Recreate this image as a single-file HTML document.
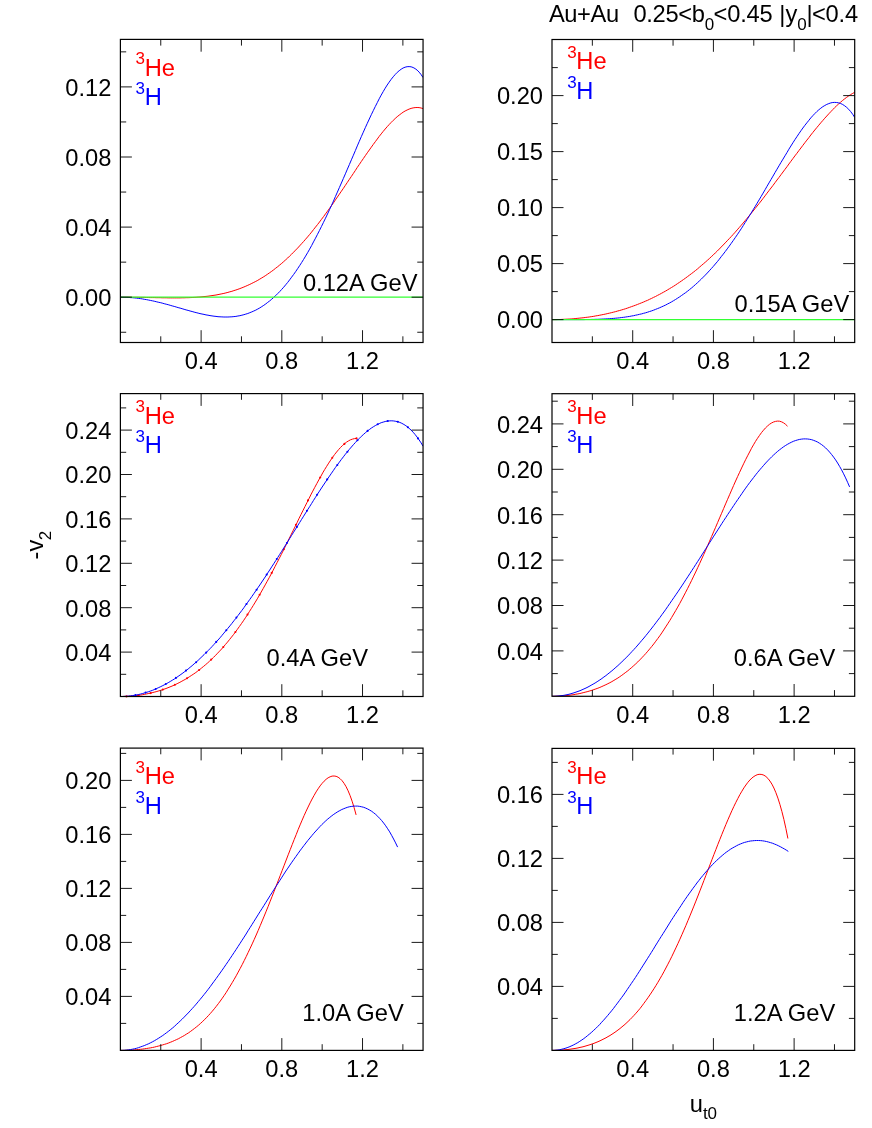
<!DOCTYPE html>
<html><head><meta charset="utf-8"><title>v2 plot</title>
<style>html,body{margin:0;padding:0;background:#fff}svg{display:block;will-change:transform}text{font-family:"Liberation Sans",sans-serif;fill:#000}</style></head>
<body>
<svg width="872" height="1128" viewBox="0 0 872 1128">
<rect width="872" height="1128" fill="#fff"/>
<g id="panel1">
<clipPath id="cp1"><rect x="120.4" y="39.4" width="302.65" height="303.1"/></clipPath>
<path d="M120.4 297.2 L122.4 297.2 L124.4 297.2 L126.4 297.2 L128.4 297.2 L130.4 297.2 L132.3 297.3 L134.3 297.3 L136.3 297.3 L138.3 297.3 L140.3 297.4 L142.3 297.4 L144.3 297.4 L146.3 297.5 L148.3 297.5 L150.3 297.6 L152.3 297.6 L154.2 297.6 L156.2 297.7 L158.2 297.7 L160.2 297.7 L162.2 297.8 L164.2 297.8 L166.2 297.8 L168.2 297.9 L170.2 297.9 L172.2 297.9 L174.2 297.9 L176.2 297.9 L178.1 297.9 L180.1 297.9 L182.1 297.8 L184.1 297.8 L186.1 297.7 L188.1 297.7 L190.1 297.6 L192.1 297.5 L194.1 297.4 L196.1 297.3 L198.1 297.1 L200.0 297.0 L202.0 296.8 L204.0 296.6 L206.0 296.4 L208.0 296.2 L210.0 295.9 L212.0 295.6 L214.0 295.3 L216.0 295.0 L218.0 294.6 L220.0 294.2 L221.9 293.8 L223.9 293.4 L225.9 292.9 L227.9 292.4 L229.9 291.8 L231.9 291.3 L233.9 290.6 L235.9 290.0 L237.9 289.3 L239.9 288.6 L241.9 287.8 L243.9 287.0 L245.8 286.2 L247.8 285.3 L249.8 284.4 L251.8 283.4 L253.8 282.4 L255.8 281.4 L257.8 280.3 L259.8 279.1 L261.8 277.9 L263.8 276.7 L265.8 275.4 L267.7 274.1 L269.7 272.7 L271.7 271.3 L273.7 269.8 L275.7 268.2 L277.7 266.7 L279.7 265.0 L281.7 263.4 L283.7 261.6 L285.7 259.8 L287.7 258.0 L289.6 256.1 L291.6 254.2 L293.6 252.2 L295.6 250.1 L297.6 248.1 L299.6 245.9 L301.6 243.7 L303.6 241.5 L305.6 239.2 L307.6 236.9 L309.6 234.5 L311.6 232.1 L313.5 229.6 L315.5 227.1 L317.5 224.6 L319.5 222.0 L321.5 219.3 L323.5 216.7 L325.5 213.9 L327.5 211.2 L329.5 208.4 L331.5 205.6 L333.5 202.8 L335.4 199.9 L337.4 197.0 L339.4 194.1 L341.4 191.2 L343.4 188.3 L345.4 185.3 L347.4 182.3 L349.4 179.3 L351.4 176.4 L353.4 173.4 L355.4 170.4 L357.3 167.4 L359.3 164.5 L361.3 161.5 L363.3 158.6 L365.3 155.7 L367.3 152.8 L369.3 150.0 L371.3 147.2 L373.3 144.4 L375.3 141.7 L377.3 139.0 L379.2 136.4 L381.2 133.9 L383.2 131.4 L385.2 129.0 L387.2 126.7 L389.2 124.5 L391.2 122.4 L393.2 120.4 L395.2 118.5 L397.2 116.7 L399.2 115.1 L401.2 113.6 L403.1 112.2 L405.1 111.0 L407.1 110.0 L409.1 109.1 L411.1 108.4 L413.1 107.9 L415.1 107.6 L417.1 107.5 L419.1 107.6 L421.1 108.0 L423.1 108.6" fill="none" stroke="#f00" stroke-width="1.0" stroke-linejoin="round" clip-path="url(#cp1)"/>
<path d="M120.4 297.2 L122.4 297.2 L124.4 297.3 L126.4 297.3 L128.4 297.4 L130.4 297.6 L132.3 297.7 L134.3 297.9 L136.3 298.1 L138.3 298.4 L140.3 298.6 L142.3 298.9 L144.3 299.3 L146.3 299.6 L148.3 300.0 L150.3 300.4 L152.3 300.8 L154.2 301.2 L156.2 301.7 L158.2 302.2 L160.2 302.6 L162.2 303.1 L164.2 303.7 L166.2 304.2 L168.2 304.7 L170.2 305.3 L172.2 305.9 L174.2 306.4 L176.2 307.0 L178.1 307.6 L180.1 308.1 L182.1 308.7 L184.1 309.3 L186.1 309.9 L188.1 310.4 L190.1 311.0 L192.1 311.5 L194.1 312.1 L196.1 312.6 L198.1 313.1 L200.0 313.6 L202.0 314.0 L204.0 314.4 L206.0 314.9 L208.0 315.2 L210.0 315.6 L212.0 315.9 L214.0 316.2 L216.0 316.4 L218.0 316.7 L220.0 316.8 L221.9 316.9 L223.9 317.0 L225.9 317.0 L227.9 317.0 L229.9 316.9 L231.9 316.8 L233.9 316.6 L235.9 316.4 L237.9 316.0 L239.9 315.7 L241.9 315.2 L243.9 314.7 L245.8 314.1 L247.8 313.5 L249.8 312.7 L251.8 311.9 L253.8 311.0 L255.8 310.1 L257.8 309.0 L259.8 307.9 L261.8 306.6 L263.8 305.3 L265.8 303.9 L267.7 302.4 L269.7 300.9 L271.7 299.2 L273.7 297.4 L275.7 295.6 L277.7 293.6 L279.7 291.6 L281.7 289.4 L283.7 287.2 L285.7 284.8 L287.7 282.4 L289.6 279.9 L291.6 277.2 L293.6 274.5 L295.6 271.7 L297.6 268.7 L299.6 265.7 L301.6 262.6 L303.6 259.4 L305.6 256.1 L307.6 252.7 L309.6 249.2 L311.6 245.6 L313.5 241.9 L315.5 238.2 L317.5 234.3 L319.5 230.4 L321.5 226.4 L323.5 222.3 L325.5 218.2 L327.5 214.0 L329.5 209.7 L331.5 205.4 L333.5 201.0 L335.4 196.6 L337.4 192.1 L339.4 187.5 L341.4 183.0 L343.4 178.4 L345.4 173.8 L347.4 169.1 L349.4 164.5 L351.4 159.8 L353.4 155.2 L355.4 150.5 L357.3 145.9 L359.3 141.3 L361.3 136.7 L363.3 132.2 L365.3 127.7 L367.3 123.3 L369.3 119.0 L371.3 114.7 L373.3 110.6 L375.3 106.5 L377.3 102.6 L379.2 98.8 L381.2 95.1 L383.2 91.6 L385.2 88.2 L387.2 85.0 L389.2 82.1 L391.2 79.3 L393.2 76.8 L395.2 74.5 L397.2 72.4 L399.2 70.7 L401.2 69.2 L403.1 68.0 L405.1 67.2 L407.1 66.7 L409.1 66.6 L411.1 66.8 L413.1 67.5 L415.1 68.6 L417.1 70.1 L419.1 72.1 L421.1 74.6 L423.1 77.6" fill="none" stroke="#00f" stroke-width="1.0" stroke-linejoin="round" clip-path="url(#cp1)"/>
<line x1="120.4" y1="297.2" x2="423.05" y2="297.2" stroke="#3f3" stroke-width="1.2"/>
<path d="M160.75 342.5v-6.2M160.75 39.4v6.2M201.11 342.5v-12.3M201.11 39.4v12.3M241.46 342.5v-6.2M241.46 39.4v6.2M281.82 342.5v-12.3M281.82 39.4v12.3M322.17 342.5v-6.2M322.17 39.4v6.2M362.52 342.5v-12.3M362.52 39.4v12.3M402.88 342.5v-6.2M402.88 39.4v6.2M120.4 332.25h5.8M423.05 332.25h-5.8M120.4 297.20h11.5M423.05 297.20h-11.5M120.4 262.15h5.8M423.05 262.15h-5.8M120.4 227.10h11.5M423.05 227.10h-11.5M120.4 192.05h5.8M423.05 192.05h-5.8M120.4 157.00h11.5M423.05 157.00h-11.5M120.4 121.95h5.8M423.05 121.95h-5.8M120.4 86.90h11.5M423.05 86.90h-11.5M120.4 51.85h5.8M423.05 51.85h-5.8" stroke="#000" stroke-width="0.9" fill="none"/>
<rect x="120.4" y="39.4" width="302.65" height="303.1" fill="none" stroke="#000" stroke-width="1.2"/>
<text x="111.4" y="306.0" font-size="23.7" text-anchor="end">0.00</text>
<text x="111.4" y="235.9" font-size="23.7" text-anchor="end">0.04</text>
<text x="111.4" y="165.8" font-size="23.7" text-anchor="end">0.08</text>
<text x="111.4" y="95.7" font-size="23.7" text-anchor="end">0.12</text>
<text x="201.1" y="368.7" font-size="23.7" text-anchor="middle">0.4</text>
<text x="281.8" y="368.7" font-size="23.7" text-anchor="middle">0.8</text>
<text x="362.5" y="368.7" font-size="23.7" text-anchor="middle">1.2</text>
<text x="135.6" y="75.6" font-size="23.7" style="fill:#f00"><tspan font-size="17.0" dy="-11.8">3</tspan><tspan dy="11.8" dx="-0.3">He</tspan></text>
<text x="135.6" y="104.8" font-size="23.7" style="fill:#00f"><tspan font-size="17.0" dy="-10.7">3</tspan><tspan dy="10.7" dx="-0.3">H</tspan></text>
<text x="417.5" y="291.1" font-size="23.7" text-anchor="end">0.12A GeV</text>
</g>
<g id="panel2">
<clipPath id="cp2"><rect x="552" y="39.5" width="302.7" height="303"/></clipPath>
<path d="M552.0 319.6 L554.0 319.6 L556.0 319.6 L558.0 319.5 L560.0 319.5 L562.0 319.4 L563.9 319.3 L565.9 319.2 L567.9 319.1 L569.9 319.0 L571.9 318.9 L573.9 318.7 L575.9 318.5 L577.9 318.3 L579.9 318.1 L581.9 317.9 L583.9 317.7 L585.8 317.4 L587.8 317.2 L589.8 316.9 L591.8 316.6 L593.8 316.3 L595.8 315.9 L597.8 315.6 L599.8 315.2 L601.8 314.8 L603.8 314.4 L605.8 314.0 L607.8 313.5 L609.7 313.1 L611.7 312.6 L613.7 312.1 L615.7 311.6 L617.7 311.0 L619.7 310.5 L621.7 309.9 L623.7 309.3 L625.7 308.7 L627.7 308.0 L629.7 307.3 L631.6 306.6 L633.6 305.9 L635.6 305.2 L637.6 304.4 L639.6 303.6 L641.6 302.8 L643.6 302.0 L645.6 301.1 L647.6 300.3 L649.6 299.3 L651.6 298.4 L653.5 297.4 L655.5 296.5 L657.5 295.4 L659.5 294.4 L661.5 293.3 L663.5 292.2 L665.5 291.1 L667.5 289.9 L669.5 288.7 L671.5 287.5 L673.5 286.3 L675.5 285.0 L677.4 283.7 L679.4 282.4 L681.4 281.0 L683.4 279.6 L685.4 278.2 L687.4 276.7 L689.4 275.2 L691.4 273.7 L693.4 272.2 L695.4 270.6 L697.4 269.0 L699.3 267.3 L701.3 265.6 L703.3 263.9 L705.3 262.2 L707.3 260.4 L709.3 258.6 L711.3 256.7 L713.3 254.9 L715.3 252.9 L717.3 251.0 L719.3 249.0 L721.2 247.0 L723.2 245.0 L725.2 242.9 L727.2 240.8 L729.2 238.7 L731.2 236.6 L733.2 234.4 L735.2 232.2 L737.2 229.9 L739.2 227.6 L741.2 225.3 L743.2 223.0 L745.1 220.7 L747.1 218.3 L749.1 215.9 L751.1 213.4 L753.1 211.0 L755.1 208.5 L757.1 206.0 L759.1 203.5 L761.1 201.0 L763.1 198.4 L765.1 195.8 L767.0 193.2 L769.0 190.6 L771.0 188.0 L773.0 185.4 L775.0 182.7 L777.0 180.0 L779.0 177.4 L781.0 174.7 L783.0 172.0 L785.0 169.3 L787.0 166.7 L788.9 164.0 L790.9 161.3 L792.9 158.6 L794.9 155.9 L796.9 153.3 L798.9 150.6 L800.9 148.0 L802.9 145.3 L804.9 142.7 L806.9 140.1 L808.9 137.6 L810.8 135.0 L812.8 132.5 L814.8 130.0 L816.8 127.6 L818.8 125.2 L820.8 122.8 L822.8 120.5 L824.8 118.2 L826.8 116.0 L828.8 113.8 L830.8 111.7 L832.8 109.6 L834.7 107.6 L836.7 105.7 L838.7 103.9 L840.7 102.1 L842.7 100.4 L844.7 98.8 L846.7 97.3 L848.7 95.9 L850.7 94.6 L852.7 93.4 L854.7 92.3" fill="none" stroke="#f00" stroke-width="1.0" stroke-linejoin="round" clip-path="url(#cp2)"/>
<path d="M552.0 319.6 L554.0 319.6 L556.0 319.6 L558.0 319.6 L560.0 319.6 L562.0 319.6 L563.9 319.6 L565.9 319.6 L567.9 319.6 L569.9 319.6 L571.9 319.6 L573.9 319.6 L575.9 319.6 L577.9 319.6 L579.9 319.6 L581.9 319.6 L583.9 319.6 L585.8 319.5 L587.8 319.5 L589.8 319.5 L591.8 319.4 L593.8 319.4 L595.8 319.3 L597.8 319.3 L599.8 319.2 L601.8 319.1 L603.8 319.0 L605.8 318.9 L607.8 318.8 L609.7 318.7 L611.7 318.5 L613.7 318.4 L615.7 318.2 L617.7 318.0 L619.7 317.8 L621.7 317.5 L623.7 317.3 L625.7 317.0 L627.7 316.7 L629.7 316.4 L631.6 316.0 L633.6 315.7 L635.6 315.2 L637.6 314.8 L639.6 314.3 L641.6 313.9 L643.6 313.3 L645.6 312.8 L647.6 312.2 L649.6 311.5 L651.6 310.9 L653.5 310.2 L655.5 309.4 L657.5 308.6 L659.5 307.8 L661.5 306.9 L663.5 306.0 L665.5 305.1 L667.5 304.0 L669.5 303.0 L671.5 301.9 L673.5 300.7 L675.5 299.5 L677.4 298.3 L679.4 297.0 L681.4 295.6 L683.4 294.2 L685.4 292.8 L687.4 291.3 L689.4 289.7 L691.4 288.1 L693.4 286.4 L695.4 284.6 L697.4 282.8 L699.3 281.0 L701.3 279.1 L703.3 277.1 L705.3 275.1 L707.3 273.0 L709.3 270.8 L711.3 268.6 L713.3 266.4 L715.3 264.0 L717.3 261.7 L719.3 259.2 L721.2 256.7 L723.2 254.2 L725.2 251.6 L727.2 248.9 L729.2 246.2 L731.2 243.4 L733.2 240.6 L735.2 237.7 L737.2 234.8 L739.2 231.8 L741.2 228.8 L743.2 225.7 L745.1 222.6 L747.1 219.5 L749.1 216.3 L751.1 213.1 L753.1 209.8 L755.1 206.6 L757.1 203.2 L759.1 199.9 L761.1 196.5 L763.1 193.1 L765.1 189.7 L767.0 186.3 L769.0 182.9 L771.0 179.5 L773.0 176.1 L775.0 172.6 L777.0 169.2 L779.0 165.8 L781.0 162.4 L783.0 159.1 L785.0 155.8 L787.0 152.5 L788.9 149.2 L790.9 146.0 L792.9 142.8 L794.9 139.7 L796.9 136.7 L798.9 133.7 L800.9 130.8 L802.9 128.0 L804.9 125.3 L806.9 122.8 L808.9 120.3 L810.8 117.9 L812.8 115.7 L814.8 113.6 L816.8 111.6 L818.8 109.8 L820.8 108.2 L822.8 106.7 L824.8 105.5 L826.8 104.4 L828.8 103.6 L830.8 102.9 L832.8 102.5 L834.7 102.4 L836.7 102.5 L838.7 102.9 L840.7 103.5 L842.7 104.5 L844.7 105.8 L846.7 107.4 L848.7 109.3 L850.7 111.6 L852.7 114.3 L854.7 117.4" fill="none" stroke="#00f" stroke-width="1.0" stroke-linejoin="round" clip-path="url(#cp2)"/>
<line x1="552" y1="319.6" x2="854.7" y2="319.6" stroke="#3f3" stroke-width="1.2"/>
<path d="M592.35 342.5v-6.2M592.35 39.5v6.2M632.71 342.5v-12.3M632.71 39.5v12.3M673.06 342.5v-6.2M673.06 39.5v6.2M713.42 342.5v-12.3M713.42 39.5v12.3M753.77 342.5v-6.2M753.77 39.5v6.2M794.12 342.5v-12.3M794.12 39.5v12.3M834.48 342.5v-6.2M834.48 39.5v6.2M552 319.60h11.5M854.7 319.60h-11.5M552 291.60h5.8M854.7 291.60h-5.8M552 263.60h11.5M854.7 263.60h-11.5M552 235.60h5.8M854.7 235.60h-5.8M552 207.60h11.5M854.7 207.60h-11.5M552 179.60h5.8M854.7 179.60h-5.8M552 151.60h11.5M854.7 151.60h-11.5M552 123.60h5.8M854.7 123.60h-5.8M552 95.60h11.5M854.7 95.60h-11.5M552 67.60h5.8M854.7 67.60h-5.8" stroke="#000" stroke-width="0.9" fill="none"/>
<rect x="552" y="39.5" width="302.7" height="303" fill="none" stroke="#000" stroke-width="1.2"/>
<text x="543" y="328.4" font-size="23.7" text-anchor="end">0.00</text>
<text x="543" y="272.4" font-size="23.7" text-anchor="end">0.05</text>
<text x="543" y="216.4" font-size="23.7" text-anchor="end">0.10</text>
<text x="543" y="160.4" font-size="23.7" text-anchor="end">0.15</text>
<text x="543" y="104.4" font-size="23.7" text-anchor="end">0.20</text>
<text x="632.7" y="368.7" font-size="23.7" text-anchor="middle">0.4</text>
<text x="713.4" y="368.7" font-size="23.7" text-anchor="middle">0.8</text>
<text x="794.1" y="368.7" font-size="23.7" text-anchor="middle">1.2</text>
<text x="567.2" y="69.4" font-size="23.7" style="fill:#f00"><tspan font-size="17.0" dy="-11.8">3</tspan><tspan dy="11.8" dx="-0.3">He</tspan></text>
<text x="567.2" y="98.6" font-size="23.7" style="fill:#00f"><tspan font-size="17.0" dy="-10.7">3</tspan><tspan dy="10.7" dx="-0.3">H</tspan></text>
<text x="849.2" y="312.4" font-size="23.7" text-anchor="end">0.15A GeV</text>
</g>
<g id="panel3">
<clipPath id="cp3"><rect x="120.4" y="393.6" width="302.65" height="302.9"/></clipPath>
<path d="M120.4 696.5 L122.4 696.5 L124.4 696.4 L126.4 696.4 L128.3 696.3 L130.3 696.1 L132.3 696.0 L134.3 695.8 L136.3 695.6 L138.3 695.3 L140.2 695.1 L142.2 694.8 L144.2 694.4 L146.2 694.0 L148.2 693.6 L150.2 693.2 L152.1 692.7 L154.1 692.2 L156.1 691.7 L158.1 691.1 L160.1 690.5 L162.1 689.9 L164.0 689.2 L166.0 688.5 L168.0 687.7 L170.0 686.9 L172.0 686.1 L174.0 685.2 L175.9 684.3 L177.9 683.3 L179.9 682.3 L181.9 681.2 L183.9 680.1 L185.9 679.0 L187.8 677.8 L189.8 676.5 L191.8 675.2 L193.8 673.9 L195.8 672.5 L197.8 671.0 L199.8 669.5 L201.7 667.9 L203.7 666.3 L205.7 664.6 L207.7 662.9 L209.7 661.0 L211.7 659.2 L213.6 657.3 L215.6 655.3 L217.6 653.2 L219.6 651.1 L221.6 649.0 L223.6 646.7 L225.5 644.4 L227.5 642.1 L229.5 639.6 L231.5 637.1 L233.5 634.6 L235.5 631.9 L237.4 629.3 L239.4 626.5 L241.4 623.7 L243.4 620.8 L245.4 617.8 L247.4 614.8 L249.3 611.7 L251.3 608.6 L253.3 605.4 L255.3 602.1 L257.3 598.8 L259.3 595.4 L261.2 592.0 L263.2 588.5 L265.2 584.9 L267.2 581.3 L269.2 577.7 L271.2 574.0 L273.2 570.2 L275.1 566.4 L277.1 562.6 L279.1 558.7 L281.1 554.8 L283.1 550.9 L285.1 546.9 L287.0 542.9 L289.0 538.9 L291.0 534.9 L293.0 530.8 L295.0 526.8 L297.0 522.8 L298.9 518.7 L300.9 514.7 L302.9 510.7 L304.9 506.7 L306.9 502.7 L308.9 498.8 L310.8 494.9 L312.8 491.1 L314.8 487.3 L316.8 483.6 L318.8 479.9 L320.8 476.4 L322.7 472.9 L324.7 469.5 L326.7 466.3 L328.7 463.1 L330.7 460.1 L332.7 457.2 L334.6 454.5 L336.6 452.0 L338.6 449.6 L340.6 447.4 L342.6 445.4 L344.6 443.7 L346.6 442.1 L348.5 440.9 L350.5 439.8 L352.5 439.1 L354.5 438.6 L356.5 438.4" fill="none" stroke="#f00" stroke-width="1.0" stroke-linejoin="round" clip-path="url(#cp3)"/>
<circle cx="126.5" cy="696.4" r="1.05" fill="#f00"/>
<circle cx="138.6" cy="695.3" r="1.05" fill="#f00"/>
<circle cx="150.7" cy="693.1" r="1.05" fill="#f00"/>
<circle cx="162.8" cy="689.6" r="1.05" fill="#f00"/>
<circle cx="174.9" cy="684.8" r="1.05" fill="#f00"/>
<circle cx="187.0" cy="678.3" r="1.05" fill="#f00"/>
<circle cx="199.1" cy="670.0" r="1.05" fill="#f00"/>
<circle cx="211.2" cy="659.6" r="1.05" fill="#f00"/>
<circle cx="223.3" cy="647.0" r="1.05" fill="#f00"/>
<circle cx="235.4" cy="632.0" r="1.05" fill="#f00"/>
<circle cx="247.5" cy="614.6" r="1.05" fill="#f00"/>
<circle cx="259.6" cy="594.8" r="1.05" fill="#f00"/>
<circle cx="271.7" cy="572.9" r="1.05" fill="#f00"/>
<circle cx="283.8" cy="549.3" r="1.05" fill="#f00"/>
<circle cx="295.9" cy="524.8" r="1.05" fill="#f00"/>
<circle cx="308.0" cy="500.4" r="1.05" fill="#f00"/>
<circle cx="320.2" cy="477.5" r="1.05" fill="#f00"/>
<circle cx="332.3" cy="457.8" r="1.05" fill="#f00"/>
<circle cx="344.4" cy="443.9" r="1.05" fill="#f00"/>
<circle cx="356.5" cy="438.4" r="1.05" fill="#f00"/>
<path d="M120.4 696.5 L122.4 696.5 L124.4 696.4 L126.4 696.3 L128.4 696.1 L130.4 695.9 L132.3 695.6 L134.3 695.3 L136.3 695.0 L138.3 694.6 L140.3 694.1 L142.3 693.6 L144.3 693.0 L146.3 692.4 L148.3 691.8 L150.3 691.1 L152.3 690.4 L154.2 689.6 L156.2 688.7 L158.2 687.8 L160.2 686.9 L162.2 685.9 L164.2 684.9 L166.2 683.8 L168.2 682.7 L170.2 681.5 L172.2 680.3 L174.2 679.1 L176.2 677.8 L178.1 676.4 L180.1 675.0 L182.1 673.6 L184.1 672.1 L186.1 670.5 L188.1 669.0 L190.1 667.3 L192.1 665.7 L194.1 663.9 L196.1 662.2 L198.1 660.4 L200.0 658.5 L202.0 656.6 L204.0 654.7 L206.0 652.7 L208.0 650.7 L210.0 648.7 L212.0 646.6 L214.0 644.4 L216.0 642.2 L218.0 640.0 L220.0 637.8 L221.9 635.5 L223.9 633.1 L225.9 630.7 L227.9 628.3 L229.9 625.9 L231.9 623.4 L233.9 620.8 L235.9 618.3 L237.9 615.7 L239.9 613.0 L241.9 610.4 L243.9 607.7 L245.8 604.9 L247.8 602.2 L249.8 599.4 L251.8 596.6 L253.8 593.7 L255.8 590.8 L257.8 587.9 L259.8 585.0 L261.8 582.0 L263.8 579.0 L265.8 576.0 L267.7 573.0 L269.7 570.0 L271.7 566.9 L273.7 563.8 L275.7 560.7 L277.7 557.6 L279.7 554.4 L281.7 551.3 L283.7 548.1 L285.7 544.9 L287.7 541.8 L289.6 538.6 L291.6 535.4 L293.6 532.2 L295.6 529.0 L297.6 525.8 L299.6 522.6 L301.6 519.4 L303.6 516.2 L305.6 513.0 L307.6 509.8 L309.6 506.7 L311.6 503.5 L313.5 500.4 L315.5 497.3 L317.5 494.1 L319.5 491.1 L321.5 488.0 L323.5 485.0 L325.5 482.0 L327.5 479.0 L329.5 476.1 L331.5 473.2 L333.5 470.3 L335.4 467.5 L337.4 464.8 L339.4 462.1 L341.4 459.4 L343.4 456.8 L345.4 454.2 L347.4 451.8 L349.4 449.3 L351.4 447.0 L353.4 444.7 L355.4 442.5 L357.3 440.4 L359.3 438.4 L361.3 436.4 L363.3 434.6 L365.3 432.8 L367.3 431.1 L369.3 429.6 L371.3 428.1 L373.3 426.8 L375.3 425.6 L377.3 424.5 L379.2 423.6 L381.2 422.7 L383.2 422.1 L385.2 421.5 L387.2 421.1 L389.2 420.9 L391.2 420.8 L393.2 420.9 L395.2 421.2 L397.2 421.6 L399.2 422.2 L401.2 423.0 L403.1 424.0 L405.1 425.2 L407.1 426.6 L409.1 428.3 L411.1 430.1 L413.1 432.2 L415.1 434.5 L417.1 437.1 L419.1 439.9 L421.1 442.9 L423.1 446.3" fill="none" stroke="#00f" stroke-width="1.0" stroke-linejoin="round" clip-path="url(#cp3)"/>
<circle cx="135.5" cy="695.1" r="1.05" fill="#00f"/>
<circle cx="145.6" cy="692.6" r="1.05" fill="#00f"/>
<circle cx="155.7" cy="689.0" r="1.05" fill="#00f"/>
<circle cx="165.8" cy="684.0" r="1.05" fill="#00f"/>
<circle cx="175.9" cy="677.9" r="1.05" fill="#00f"/>
<circle cx="186.0" cy="670.6" r="1.05" fill="#00f"/>
<circle cx="196.1" cy="662.2" r="1.05" fill="#00f"/>
<circle cx="206.2" cy="652.6" r="1.05" fill="#00f"/>
<circle cx="216.2" cy="641.9" r="1.05" fill="#00f"/>
<circle cx="226.3" cy="630.2" r="1.05" fill="#00f"/>
<circle cx="236.4" cy="617.6" r="1.05" fill="#00f"/>
<circle cx="246.5" cy="604.0" r="1.05" fill="#00f"/>
<circle cx="256.6" cy="589.7" r="1.05" fill="#00f"/>
<circle cx="266.7" cy="574.6" r="1.05" fill="#00f"/>
<circle cx="276.8" cy="559.0" r="1.05" fill="#00f"/>
<circle cx="286.9" cy="543.0" r="1.05" fill="#00f"/>
<circle cx="296.9" cy="526.9" r="1.05" fill="#00f"/>
<circle cx="307.0" cy="510.7" r="1.05" fill="#00f"/>
<circle cx="317.1" cy="494.8" r="1.05" fill="#00f"/>
<circle cx="327.2" cy="479.4" r="1.05" fill="#00f"/>
<circle cx="337.3" cy="465.0" r="1.05" fill="#00f"/>
<circle cx="347.4" cy="451.8" r="1.05" fill="#00f"/>
<circle cx="357.5" cy="440.2" r="1.05" fill="#00f"/>
<circle cx="367.6" cy="430.9" r="1.05" fill="#00f"/>
<circle cx="377.7" cy="424.3" r="1.05" fill="#00f"/>
<circle cx="387.7" cy="421.0" r="1.05" fill="#00f"/>
<circle cx="397.8" cy="421.8" r="1.05" fill="#00f"/>
<circle cx="407.9" cy="427.3" r="1.05" fill="#00f"/>
<circle cx="418.0" cy="438.4" r="1.05" fill="#00f"/>
<path d="M160.75 696.5v-6.2M160.75 393.6v6.2M201.11 696.5v-12.3M201.11 393.6v12.3M241.46 696.5v-6.2M241.46 393.6v6.2M281.82 696.5v-12.3M281.82 393.6v12.3M322.17 696.5v-6.2M322.17 393.6v6.2M362.52 696.5v-12.3M362.52 393.6v12.3M402.88 696.5v-6.2M402.88 393.6v6.2M120.4 674.30h5.8M423.05 674.30h-5.8M120.4 652.10h11.5M423.05 652.10h-11.5M120.4 629.90h5.8M423.05 629.90h-5.8M120.4 607.70h11.5M423.05 607.70h-11.5M120.4 585.50h5.8M423.05 585.50h-5.8M120.4 563.30h11.5M423.05 563.30h-11.5M120.4 541.10h5.8M423.05 541.10h-5.8M120.4 518.90h11.5M423.05 518.90h-11.5M120.4 496.70h5.8M423.05 496.70h-5.8M120.4 474.50h11.5M423.05 474.50h-11.5M120.4 452.30h5.8M423.05 452.30h-5.8M120.4 430.10h11.5M423.05 430.10h-11.5M120.4 407.90h5.8M423.05 407.90h-5.8" stroke="#000" stroke-width="0.9" fill="none"/>
<rect x="120.4" y="393.6" width="302.65" height="302.9" fill="none" stroke="#000" stroke-width="1.2"/>
<text x="111.4" y="660.9" font-size="23.7" text-anchor="end">0.04</text>
<text x="111.4" y="616.5" font-size="23.7" text-anchor="end">0.08</text>
<text x="111.4" y="572.1" font-size="23.7" text-anchor="end">0.12</text>
<text x="111.4" y="527.7" font-size="23.7" text-anchor="end">0.16</text>
<text x="111.4" y="483.3" font-size="23.7" text-anchor="end">0.20</text>
<text x="111.4" y="438.9" font-size="23.7" text-anchor="end">0.24</text>
<text x="201.1" y="722.7" font-size="23.7" text-anchor="middle">0.4</text>
<text x="281.8" y="722.7" font-size="23.7" text-anchor="middle">0.8</text>
<text x="362.5" y="722.7" font-size="23.7" text-anchor="middle">1.2</text>
<text x="135.6" y="423.75" font-size="23.7" style="fill:#f00"><tspan font-size="17.0" dy="-11.8">3</tspan><tspan dy="11.8" dx="-0.3">He</tspan></text>
<text x="135.6" y="452.95" font-size="23.7" style="fill:#00f"><tspan font-size="17.0" dy="-10.7">3</tspan><tspan dy="10.7" dx="-0.3">H</tspan></text>
<text x="368" y="666.25" font-size="23.7" text-anchor="end">0.4A GeV</text>
</g>
<g id="panel4">
<clipPath id="cp4"><rect x="552" y="393.7" width="302.7" height="302.6"/></clipPath>
<path d="M552.0 696.3 L554.0 696.3 L556.0 696.2 L558.0 696.2 L560.0 696.1 L562.0 695.9 L564.0 695.8 L566.0 695.6 L568.0 695.4 L570.0 695.2 L572.0 694.9 L574.0 694.6 L575.9 694.2 L577.9 693.9 L579.9 693.5 L581.9 693.0 L583.9 692.5 L585.9 692.0 L587.9 691.5 L589.9 690.9 L591.9 690.3 L593.9 689.6 L595.9 688.9 L597.9 688.2 L599.9 687.4 L601.9 686.5 L603.9 685.6 L605.9 684.7 L607.9 683.7 L609.9 682.7 L611.9 681.6 L613.9 680.4 L615.9 679.2 L617.9 678.0 L619.8 676.7 L621.8 675.3 L623.8 673.8 L625.8 672.3 L627.8 670.8 L629.8 669.1 L631.8 667.4 L633.8 665.6 L635.8 663.8 L637.8 661.9 L639.8 659.9 L641.8 657.8 L643.8 655.7 L645.8 653.5 L647.8 651.2 L649.8 648.8 L651.8 646.4 L653.8 643.9 L655.8 641.2 L657.8 638.5 L659.8 635.8 L661.8 632.9 L663.7 630.0 L665.7 626.9 L667.7 623.8 L669.7 620.7 L671.7 617.4 L673.7 614.0 L675.7 610.6 L677.7 607.1 L679.7 603.5 L681.7 599.8 L683.7 596.0 L685.7 592.2 L687.7 588.3 L689.7 584.3 L691.7 580.3 L693.7 576.1 L695.7 572.0 L697.7 567.7 L699.7 563.4 L701.7 559.0 L703.7 554.6 L705.7 550.2 L707.6 545.7 L709.6 541.1 L711.6 536.5 L713.6 531.9 L715.6 527.3 L717.6 522.6 L719.6 517.9 L721.6 513.3 L723.6 508.6 L725.6 503.9 L727.6 499.3 L729.6 494.7 L731.6 490.1 L733.6 485.5 L735.6 481.0 L737.6 476.6 L739.6 472.3 L741.6 468.0 L743.6 463.8 L745.6 459.7 L747.6 455.8 L749.6 452.0 L751.5 448.3 L753.5 444.8 L755.5 441.4 L757.5 438.3 L759.5 435.4 L761.5 432.6 L763.5 430.2 L765.5 427.9 L767.5 426.0 L769.5 424.3 L771.5 423.0 L773.5 422.0 L775.5 421.4 L777.5 421.1 L779.5 421.2 L781.5 421.8 L783.5 422.8 L785.5 424.3 L787.5 426.2" fill="none" stroke="#f00" stroke-width="1.0" stroke-linejoin="round" clip-path="url(#cp4)"/>
<path d="M552.0 696.3 L554.0 696.3 L556.0 696.2 L558.0 696.0 L560.0 695.8 L562.0 695.6 L564.0 695.3 L566.0 694.9 L568.0 694.5 L570.0 694.0 L572.0 693.4 L574.0 692.8 L576.0 692.1 L578.0 691.4 L580.0 690.7 L582.0 689.8 L584.0 688.9 L586.0 688.0 L588.0 687.0 L590.0 685.9 L591.9 684.8 L593.9 683.7 L595.9 682.5 L597.9 681.2 L599.9 679.9 L601.9 678.5 L603.9 677.0 L605.9 675.6 L607.9 674.0 L609.9 672.4 L611.9 670.8 L613.9 669.1 L615.9 667.3 L617.9 665.6 L619.9 663.7 L621.9 661.8 L623.9 659.9 L625.9 657.9 L627.9 655.9 L629.9 653.8 L631.9 651.6 L633.9 649.5 L635.9 647.3 L637.9 645.0 L639.9 642.7 L641.9 640.3 L643.9 638.0 L645.9 635.5 L647.9 633.1 L649.9 630.5 L651.9 628.0 L653.9 625.4 L655.9 622.8 L657.9 620.1 L659.9 617.5 L661.9 614.7 L663.9 612.0 L665.9 609.2 L667.8 606.4 L669.8 603.5 L671.8 600.6 L673.8 597.7 L675.8 594.8 L677.8 591.9 L679.8 588.9 L681.8 585.9 L683.8 582.9 L685.8 579.8 L687.8 576.8 L689.8 573.7 L691.8 570.6 L693.8 567.5 L695.8 564.4 L697.8 561.3 L699.8 558.2 L701.8 555.0 L703.8 551.9 L705.8 548.7 L707.8 545.6 L709.8 542.4 L711.8 539.3 L713.8 536.1 L715.8 533.0 L717.8 529.9 L719.8 526.8 L721.8 523.6 L723.8 520.5 L725.8 517.5 L727.8 514.4 L729.8 511.4 L731.8 508.4 L733.8 505.4 L735.8 502.4 L737.8 499.5 L739.8 496.6 L741.8 493.7 L743.7 490.9 L745.7 488.1 L747.7 485.3 L749.7 482.6 L751.7 480.0 L753.7 477.4 L755.7 474.8 L757.7 472.3 L759.7 469.9 L761.7 467.6 L763.7 465.3 L765.7 463.0 L767.7 460.9 L769.7 458.8 L771.7 456.8 L773.7 454.9 L775.7 453.1 L777.7 451.3 L779.7 449.7 L781.7 448.2 L783.7 446.7 L785.7 445.4 L787.7 444.2 L789.7 443.1 L791.7 442.1 L793.7 441.2 L795.7 440.5 L797.7 439.9 L799.7 439.4 L801.7 439.1 L803.7 438.9 L805.7 438.9 L807.7 439.0 L809.7 439.3 L811.7 439.7 L813.7 440.4 L815.7 441.2 L817.7 442.1 L819.6 443.3 L821.6 444.6 L823.6 446.2 L825.6 447.9 L827.6 449.9 L829.6 452.1 L831.6 454.5 L833.6 457.1 L835.6 459.9 L837.6 463.0 L839.6 466.4 L841.6 469.9 L843.6 473.8 L845.6 477.9 L847.6 482.3 L849.6 486.9" fill="none" stroke="#00f" stroke-width="1.0" stroke-linejoin="round" clip-path="url(#cp4)"/>
<path d="M592.35 696.3v-6.2M592.35 393.7v6.2M632.71 696.3v-12.3M632.71 393.7v12.3M673.06 696.3v-6.2M673.06 393.7v6.2M713.42 696.3v-12.3M713.42 393.7v12.3M753.77 696.3v-6.2M753.77 393.7v6.2M794.12 696.3v-12.3M794.12 393.7v12.3M834.48 696.3v-6.2M834.48 393.7v6.2M552 673.60h5.8M854.7 673.60h-5.8M552 650.90h11.5M854.7 650.90h-11.5M552 628.20h5.8M854.7 628.20h-5.8M552 605.50h11.5M854.7 605.50h-11.5M552 582.80h5.8M854.7 582.80h-5.8M552 560.10h11.5M854.7 560.10h-11.5M552 537.40h5.8M854.7 537.40h-5.8M552 514.70h11.5M854.7 514.70h-11.5M552 492.00h5.8M854.7 492.00h-5.8M552 469.30h11.5M854.7 469.30h-11.5M552 446.60h5.8M854.7 446.60h-5.8M552 423.90h11.5M854.7 423.90h-11.5M552 401.20h5.8M854.7 401.20h-5.8" stroke="#000" stroke-width="0.9" fill="none"/>
<rect x="552" y="393.7" width="302.7" height="302.6" fill="none" stroke="#000" stroke-width="1.2"/>
<text x="543" y="659.7" font-size="23.7" text-anchor="end">0.04</text>
<text x="543" y="614.3" font-size="23.7" text-anchor="end">0.08</text>
<text x="543" y="568.9" font-size="23.7" text-anchor="end">0.12</text>
<text x="543" y="523.5" font-size="23.7" text-anchor="end">0.16</text>
<text x="543" y="478.1" font-size="23.7" text-anchor="end">0.20</text>
<text x="543" y="432.7" font-size="23.7" text-anchor="end">0.24</text>
<text x="632.7" y="722.5" font-size="23.7" text-anchor="middle">0.4</text>
<text x="713.4" y="722.5" font-size="23.7" text-anchor="middle">0.8</text>
<text x="794.1" y="722.5" font-size="23.7" text-anchor="middle">1.2</text>
<text x="567.2" y="423.75" font-size="23.7" style="fill:#f00"><tspan font-size="17.0" dy="-11.8">3</tspan><tspan dy="11.8" dx="-0.3">He</tspan></text>
<text x="567.2" y="452.95" font-size="23.7" style="fill:#00f"><tspan font-size="17.0" dy="-10.7">3</tspan><tspan dy="10.7" dx="-0.3">H</tspan></text>
<text x="835.2" y="666.25" font-size="23.7" text-anchor="end">0.6A GeV</text>
</g>
<g id="panel5">
<clipPath id="cp5"><rect x="120.4" y="748.1" width="302.65" height="302.3"/></clipPath>
<path d="M120.4 1050.4 L122.4 1050.4 L124.4 1050.4 L126.4 1050.3 L128.4 1050.2 L130.4 1050.1 L132.4 1050.0 L134.4 1049.9 L136.4 1049.7 L138.4 1049.5 L140.4 1049.3 L142.4 1049.1 L144.4 1048.8 L146.4 1048.5 L148.4 1048.2 L150.4 1047.9 L152.4 1047.5 L154.4 1047.1 L156.3 1046.6 L158.3 1046.1 L160.3 1045.6 L162.3 1045.0 L164.3 1044.4 L166.3 1043.8 L168.3 1043.1 L170.3 1042.3 L172.3 1041.5 L174.3 1040.6 L176.3 1039.7 L178.3 1038.8 L180.3 1037.7 L182.3 1036.6 L184.3 1035.5 L186.3 1034.2 L188.3 1033.0 L190.3 1031.6 L192.3 1030.1 L194.3 1028.6 L196.3 1027.0 L198.3 1025.4 L200.3 1023.6 L202.3 1021.8 L204.3 1019.8 L206.3 1017.8 L208.3 1015.7 L210.3 1013.5 L212.3 1011.2 L214.3 1008.8 L216.3 1006.3 L218.3 1003.7 L220.3 1001.0 L222.3 998.2 L224.3 995.3 L226.3 992.3 L228.2 989.2 L230.2 986.0 L232.2 982.7 L234.2 979.3 L236.2 975.8 L238.2 972.1 L240.2 968.4 L242.2 964.6 L244.2 960.6 L246.2 956.6 L248.2 952.4 L250.2 948.2 L252.2 943.9 L254.2 939.5 L256.2 935.0 L258.2 930.4 L260.2 925.7 L262.2 920.9 L264.2 916.1 L266.2 911.2 L268.2 906.3 L270.2 901.2 L272.2 896.2 L274.2 891.1 L276.2 885.9 L278.2 880.8 L280.2 875.6 L282.2 870.4 L284.2 865.2 L286.2 860.0 L288.2 854.8 L290.2 849.7 L292.2 844.6 L294.2 839.5 L296.2 834.6 L298.1 829.7 L300.1 824.9 L302.1 820.2 L304.1 815.6 L306.1 811.2 L308.1 807.0 L310.1 802.9 L312.1 799.0 L314.1 795.4 L316.1 791.9 L318.1 788.8 L320.1 785.9 L322.1 783.4 L324.1 781.2 L326.1 779.3 L328.1 777.8 L330.1 776.8 L332.1 776.1 L334.1 776.0 L336.1 776.3 L338.1 777.2 L340.1 778.7 L342.1 780.7 L344.1 783.4 L346.1 786.7 L348.1 790.8 L350.1 795.6 L352.1 801.2 L354.1 807.6 L356.1 814.9" fill="none" stroke="#f00" stroke-width="1.0" stroke-linejoin="round" clip-path="url(#cp5)"/>
<path d="M120.4 1050.4 L122.4 1050.4 L124.4 1050.3 L126.4 1050.1 L128.4 1049.9 L130.4 1049.6 L132.4 1049.2 L134.4 1048.8 L136.4 1048.3 L138.4 1047.7 L140.3 1047.0 L142.3 1046.3 L144.3 1045.6 L146.3 1044.7 L148.3 1043.9 L150.3 1042.9 L152.3 1041.9 L154.3 1040.8 L156.3 1039.6 L158.3 1038.4 L160.3 1037.1 L162.3 1035.8 L164.3 1034.4 L166.3 1032.9 L168.3 1031.4 L170.3 1029.8 L172.3 1028.2 L174.3 1026.5 L176.2 1024.7 L178.2 1022.9 L180.2 1021.0 L182.2 1019.1 L184.2 1017.1 L186.2 1015.0 L188.2 1013.0 L190.2 1010.8 L192.2 1008.6 L194.2 1006.4 L196.2 1004.1 L198.2 1001.7 L200.2 999.3 L202.2 996.9 L204.2 994.4 L206.2 991.9 L208.2 989.3 L210.2 986.7 L212.1 984.0 L214.1 981.3 L216.1 978.6 L218.1 975.8 L220.1 973.0 L222.1 970.2 L224.1 967.3 L226.1 964.4 L228.1 961.5 L230.1 958.5 L232.1 955.5 L234.1 952.5 L236.1 949.5 L238.1 946.4 L240.1 943.3 L242.1 940.2 L244.1 937.1 L246.1 934.0 L248.0 930.8 L250.0 927.7 L252.0 924.5 L254.0 921.3 L256.0 918.1 L258.0 914.9 L260.0 911.7 L262.0 908.6 L264.0 905.4 L266.0 902.2 L268.0 899.0 L270.0 895.8 L272.0 892.7 L274.0 889.5 L276.0 886.4 L278.0 883.3 L280.0 880.2 L282.0 877.1 L283.9 874.1 L285.9 871.0 L287.9 868.1 L289.9 865.1 L291.9 862.2 L293.9 859.3 L295.9 856.5 L297.9 853.7 L299.9 850.9 L301.9 848.2 L303.9 845.6 L305.9 843.0 L307.9 840.4 L309.9 838.0 L311.9 835.6 L313.9 833.2 L315.9 831.0 L317.9 828.8 L319.8 826.7 L321.8 824.6 L323.8 822.7 L325.8 820.8 L327.8 819.0 L329.8 817.4 L331.8 815.8 L333.8 814.3 L335.8 813.0 L337.8 811.7 L339.8 810.6 L341.8 809.5 L343.8 808.7 L345.8 807.9 L347.8 807.2 L349.8 806.7 L351.8 806.4 L353.8 806.1 L355.7 806.1 L357.7 806.1 L359.7 806.4 L361.7 806.8 L363.7 807.3 L365.7 808.1 L367.7 809.0 L369.7 810.1 L371.7 811.3 L373.7 812.8 L375.7 814.4 L377.7 816.3 L379.7 818.4 L381.7 820.6 L383.7 823.1 L385.7 825.8 L387.7 828.8 L389.7 831.9 L391.6 835.3 L393.6 839.0 L395.6 842.9 L397.6 847.1" fill="none" stroke="#00f" stroke-width="1.0" stroke-linejoin="round" clip-path="url(#cp5)"/>
<path d="M160.75 1050.4v-6.2M160.75 748.1v6.2M201.11 1050.4v-12.3M201.11 748.1v12.3M241.46 1050.4v-6.2M241.46 748.1v6.2M281.82 1050.4v-12.3M281.82 748.1v12.3M322.17 1050.4v-6.2M322.17 748.1v6.2M362.52 1050.4v-12.3M362.52 748.1v12.3M402.88 1050.4v-6.2M402.88 748.1v6.2M120.4 1023.40h5.8M423.05 1023.40h-5.8M120.4 996.40h11.5M423.05 996.40h-11.5M120.4 969.40h5.8M423.05 969.40h-5.8M120.4 942.40h11.5M423.05 942.40h-11.5M120.4 915.40h5.8M423.05 915.40h-5.8M120.4 888.40h11.5M423.05 888.40h-11.5M120.4 861.40h5.8M423.05 861.40h-5.8M120.4 834.40h11.5M423.05 834.40h-11.5M120.4 807.40h5.8M423.05 807.40h-5.8M120.4 780.40h11.5M423.05 780.40h-11.5M120.4 753.40h5.8M423.05 753.40h-5.8" stroke="#000" stroke-width="0.9" fill="none"/>
<rect x="120.4" y="748.1" width="302.65" height="302.3" fill="none" stroke="#000" stroke-width="1.2"/>
<text x="111.4" y="1005.2" font-size="23.7" text-anchor="end">0.04</text>
<text x="111.4" y="951.2" font-size="23.7" text-anchor="end">0.08</text>
<text x="111.4" y="897.2" font-size="23.7" text-anchor="end">0.12</text>
<text x="111.4" y="843.2" font-size="23.7" text-anchor="end">0.16</text>
<text x="111.4" y="789.2" font-size="23.7" text-anchor="end">0.20</text>
<text x="201.1" y="1076.6" font-size="23.7" text-anchor="middle">0.4</text>
<text x="281.8" y="1076.6" font-size="23.7" text-anchor="middle">0.8</text>
<text x="362.5" y="1076.6" font-size="23.7" text-anchor="middle">1.2</text>
<text x="135.6" y="784.4" font-size="23.7" style="fill:#f00"><tspan font-size="17.0" dy="-11.8">3</tspan><tspan dy="11.8" dx="-0.3">He</tspan></text>
<text x="135.6" y="813.6" font-size="23.7" style="fill:#00f"><tspan font-size="17.0" dy="-10.7">3</tspan><tspan dy="10.7" dx="-0.3">H</tspan></text>
<text x="403.7" y="1020.5" font-size="23.7" text-anchor="end">1.0A GeV</text>
</g>
<g id="panel6">
<clipPath id="cp6"><rect x="552" y="748.4" width="302.7" height="302"/></clipPath>
<path d="M552.0 1050.4 L554.0 1050.4 L556.0 1050.3 L558.0 1050.3 L560.0 1050.2 L562.0 1050.0 L564.0 1049.9 L566.0 1049.7 L568.0 1049.5 L570.0 1049.2 L572.0 1048.9 L574.0 1048.6 L576.0 1048.3 L578.0 1047.9 L580.0 1047.4 L582.0 1047.0 L584.0 1046.5 L586.0 1045.9 L588.0 1045.3 L590.0 1044.7 L592.0 1044.0 L594.0 1043.3 L596.0 1042.5 L598.0 1041.7 L600.0 1040.8 L602.0 1039.8 L604.0 1038.8 L606.0 1037.8 L608.0 1036.6 L610.0 1035.5 L612.0 1034.2 L614.0 1032.9 L616.0 1031.5 L618.0 1030.0 L620.0 1028.5 L622.0 1026.8 L624.0 1025.2 L626.0 1023.4 L628.0 1021.5 L630.0 1019.6 L632.0 1017.5 L634.0 1015.4 L636.0 1013.2 L638.0 1010.9 L640.0 1008.5 L642.0 1005.9 L643.9 1003.3 L645.9 1000.6 L647.9 997.8 L649.9 994.9 L651.9 991.9 L653.9 988.8 L655.9 985.6 L657.9 982.3 L659.9 978.9 L661.9 975.4 L663.9 971.8 L665.9 968.0 L667.9 964.2 L669.9 960.3 L671.9 956.3 L673.9 952.1 L675.9 947.9 L677.9 943.6 L679.9 939.2 L681.9 934.7 L683.9 930.1 L685.9 925.5 L687.9 920.7 L689.9 915.9 L691.9 911.0 L693.9 906.1 L695.9 901.1 L697.9 896.0 L699.9 890.9 L701.9 885.8 L703.9 880.6 L705.9 875.4 L707.9 870.2 L709.9 865.0 L711.9 859.8 L713.9 854.6 L715.9 849.5 L717.9 844.3 L719.9 839.3 L721.9 834.3 L723.9 829.4 L725.9 824.5 L727.9 819.8 L729.9 815.2 L731.9 810.7 L733.9 806.4 L735.9 802.3 L737.9 798.4 L739.9 794.6 L741.9 791.2 L743.9 787.9 L745.9 785.0 L747.9 782.3 L749.9 780.0 L751.9 778.0 L753.9 776.5 L755.9 775.3 L757.9 774.5 L759.9 774.3 L761.9 774.5 L763.9 775.2 L765.9 776.5 L767.9 778.4 L769.9 781.0 L771.9 784.1 L773.9 788.0 L775.9 792.7 L777.9 798.1 L779.9 804.4 L781.9 811.5 L783.9 819.5 L785.9 828.5 L787.9 838.5" fill="none" stroke="#f00" stroke-width="1.0" stroke-linejoin="round" clip-path="url(#cp6)"/>
<path d="M552.0 1050.4 L554.0 1050.4 L556.0 1050.2 L558.0 1050.0 L559.9 1049.7 L561.9 1049.2 L563.9 1048.7 L565.9 1048.1 L567.9 1047.4 L569.9 1046.6 L571.9 1045.7 L573.8 1044.8 L575.8 1043.7 L577.8 1042.6 L579.8 1041.3 L581.8 1040.0 L583.8 1038.6 L585.8 1037.1 L587.7 1035.5 L589.7 1033.9 L591.7 1032.2 L593.7 1030.3 L595.7 1028.5 L597.7 1026.5 L599.7 1024.5 L601.6 1022.3 L603.6 1020.2 L605.6 1017.9 L607.6 1015.6 L609.6 1013.2 L611.6 1010.8 L613.6 1008.3 L615.5 1005.7 L617.5 1003.1 L619.5 1000.4 L621.5 997.7 L623.5 995.0 L625.5 992.1 L627.4 989.3 L629.4 986.4 L631.4 983.4 L633.4 980.5 L635.4 977.5 L637.4 974.4 L639.4 971.3 L641.3 968.3 L643.3 965.1 L645.3 962.0 L647.3 958.8 L649.3 955.7 L651.3 952.5 L653.3 949.3 L655.2 946.1 L657.2 942.9 L659.2 939.7 L661.2 936.5 L663.2 933.4 L665.2 930.2 L667.2 927.0 L669.1 923.9 L671.1 920.7 L673.1 917.6 L675.1 914.5 L677.1 911.5 L679.1 908.5 L681.1 905.5 L683.0 902.5 L685.0 899.6 L687.0 896.7 L689.0 893.9 L691.0 891.1 L693.0 888.3 L695.0 885.7 L696.9 883.0 L698.9 880.5 L700.9 877.9 L702.9 875.5 L704.9 873.1 L706.9 870.8 L708.9 868.6 L710.8 866.4 L712.8 864.3 L714.8 862.3 L716.8 860.3 L718.8 858.5 L720.8 856.7 L722.8 855.0 L724.7 853.4 L726.7 851.9 L728.7 850.5 L730.7 849.1 L732.7 847.9 L734.7 846.8 L736.7 845.7 L738.6 844.7 L740.6 843.9 L742.6 843.1 L744.6 842.4 L746.6 841.9 L748.6 841.4 L750.5 841.0 L752.5 840.8 L754.5 840.6 L756.5 840.5 L758.5 840.5 L760.5 840.6 L762.5 840.8 L764.4 841.1 L766.4 841.5 L768.4 842.0 L770.4 842.6 L772.4 843.2 L774.4 844.0 L776.4 844.8 L778.3 845.7 L780.3 846.7 L782.3 847.8 L784.3 848.9 L786.3 850.1 L788.3 851.4" fill="none" stroke="#00f" stroke-width="1.0" stroke-linejoin="round" clip-path="url(#cp6)"/>
<path d="M592.35 1050.4v-6.2M592.35 748.4v6.2M632.71 1050.4v-12.3M632.71 748.4v12.3M673.06 1050.4v-6.2M673.06 748.4v6.2M713.42 1050.4v-12.3M713.42 748.4v12.3M753.77 1050.4v-6.2M753.77 748.4v6.2M794.12 1050.4v-12.3M794.12 748.4v12.3M834.48 1050.4v-6.2M834.48 748.4v6.2M552 1018.40h5.8M854.7 1018.40h-5.8M552 986.40h11.5M854.7 986.40h-11.5M552 954.40h5.8M854.7 954.40h-5.8M552 922.40h11.5M854.7 922.40h-11.5M552 890.40h5.8M854.7 890.40h-5.8M552 858.40h11.5M854.7 858.40h-11.5M552 826.40h5.8M854.7 826.40h-5.8M552 794.40h11.5M854.7 794.40h-11.5M552 762.40h5.8M854.7 762.40h-5.8" stroke="#000" stroke-width="0.9" fill="none"/>
<rect x="552" y="748.4" width="302.7" height="302" fill="none" stroke="#000" stroke-width="1.2"/>
<text x="543" y="995.2" font-size="23.7" text-anchor="end">0.04</text>
<text x="543" y="931.2" font-size="23.7" text-anchor="end">0.08</text>
<text x="543" y="867.2" font-size="23.7" text-anchor="end">0.12</text>
<text x="543" y="803.2" font-size="23.7" text-anchor="end">0.16</text>
<text x="632.7" y="1076.6" font-size="23.7" text-anchor="middle">0.4</text>
<text x="713.4" y="1076.6" font-size="23.7" text-anchor="middle">0.8</text>
<text x="794.1" y="1076.6" font-size="23.7" text-anchor="middle">1.2</text>
<text x="567.2" y="784.4" font-size="23.7" style="fill:#f00"><tspan font-size="17.0" dy="-11.8">3</tspan><tspan dy="11.8" dx="-0.3">He</tspan></text>
<text x="567.2" y="813.6" font-size="23.7" style="fill:#00f"><tspan font-size="17.0" dy="-10.7">3</tspan><tspan dy="10.7" dx="-0.3">H</tspan></text>
<text x="835.2" y="1020.5" font-size="23.7" text-anchor="end">1.2A GeV</text>
</g>
<text x="548.9" y="22.1" font-size="23.7" letter-spacing="-0.4">Au+Au</text>
<text x="633.4" y="22.1" font-size="23.7" letter-spacing="-0.3">0.25&lt;b</text>
<text x="704.7" y="30.0" font-size="17.0" letter-spacing="0">0</text>
<text x="713.6" y="22.1" font-size="23.7" letter-spacing="-0.2">&lt;0.45</text>
<text x="779.3" y="22.1" font-size="23.7" letter-spacing="0">|</text>
<text x="785.5" y="22.1" font-size="23.7" letter-spacing="0">y</text>
<text x="797.2" y="30.0" font-size="17.0" letter-spacing="0">0</text>
<text x="806.4" y="22.1" font-size="23.7" letter-spacing="0">|</text>
<text x="811.9" y="22.1" font-size="23.7" letter-spacing="-0.2">&lt;0.4</text>
<text x="689.7" y="1111.7" font-size="23.7">u<tspan font-size="17.0" dy="7.0">t0</tspan></text>
<text transform="translate(43.0 559.5) rotate(-90)" font-size="23.7">-v<tspan font-size="17.0" dy="7.8" dx="-0.5">2</tspan></text>
</svg>
</body></html>
